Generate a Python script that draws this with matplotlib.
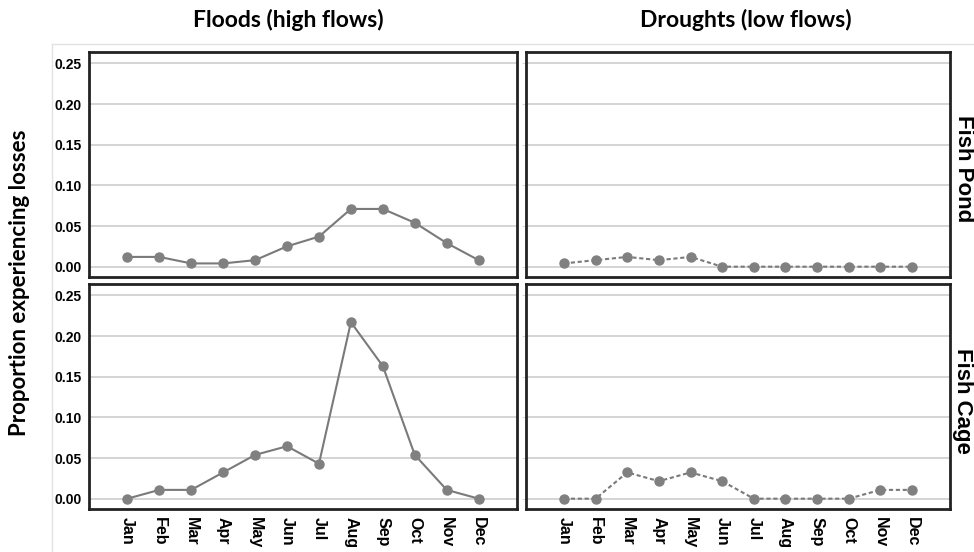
import matplotlib
matplotlib.use("Agg")
import matplotlib.pyplot as plt
from matplotlib.lines import Line2D

months = ["Jan", "Feb", "Mar", "Apr", "May", "Jun",
          "Jul", "Aug", "Sep", "Oct", "Nov", "Dec"]
col_titles = ["Floods (high flows)", "Droughts (low flows)"]
row_titles = ["Fish Pond", "Fish Cage"]
y_ticks = [0.00, 0.05, 0.10, 0.15, 0.20, 0.25]

pond_floods = [0.012, 0.012, 0.004, 0.004, 0.008, 0.025,
               0.037, 0.071, 0.071, 0.054, 0.029, 0.008]
pond_droughts = [0.004, 0.008, 0.012, 0.008, 0.012, 0.0,
                 0.0, 0.0, 0.0, 0.0, 0.0, 0.0]
cage_floods = [0.0, 0.0108, 0.0108, 0.0323, 0.0538, 0.0645,
               0.043, 0.217, 0.163, 0.0538, 0.0108, 0.0]
cage_droughts = [0.0, 0.0, 0.0323, 0.0215, 0.0323, 0.0215,
                 0.0, 0.0, 0.0, 0.0, 0.0108, 0.0108]

series = [[pond_floods, pond_droughts], [cage_floods, cage_droughts]]

W, H = 974, 552
fig = plt.figure(figsize=(W / 100, H / 100), dpi=100)

# faint outer frame of the plot area
fig.add_artist(Line2D([52 / W, 1], [1 - 44 / H] * 2, color="#e2e2e2", lw=1))
fig.add_artist(Line2D([52 / W] * 2, [0, 1 - 44 / H], color="#e2e2e2", lw=1))

lefts = [89 / W, 526 / W]
widths = [428 / W, 424 / W]
bottoms = [1 - 277 / H, 1 - 509 / H]
height = 225 / H
title_x = [288, 746]
row_y = [169, 401]

tick_font = dict(family="Liberation Sans", weight="bold")
x = list(range(len(months)))

for r in range(2):
    for c in range(2):
        ax = fig.add_axes([lefts[c], bottoms[r], widths[c], height])
        ls = "-" if c == 0 else (0, (2, 1.3))
        ax.plot(x, series[r][c], color="#7a7a7a", lw=1.5, linestyle=ls,
                marker="o", markersize=6.5, markerfacecolor="#808080",
                markeredgecolor="#808080", zorder=3)
        ax.set_xlim(-1.2, 12.2)
        ax.set_ylim(-0.0127, 0.264)
        ax.set_yticks(y_ticks)
        ax.yaxis.grid(True, color="#d4d4d4", lw=1.4)
        ax.set_axisbelow(True)
        for s in ax.spines.values():
            s.set_linewidth(2)
            s.set_color("#222222")
        ax.set_xticks(x)
        if r == 1:
            ax.set_xticklabels(months, rotation=-90, fontsize=11.5, **tick_font)
            ax.tick_params(axis="x", length=0, pad=6)
        else:
            ax.set_xticklabels([])
            ax.tick_params(axis="x", length=0)
        if c == 0:
            ax.set_yticklabels([f"{v:.2f}" for v in y_ticks], fontsize=10, **tick_font)
            ax.tick_params(axis="y", length=0, pad=5)
        else:
            ax.set_yticklabels([])
            ax.tick_params(axis="y", length=3, color="#d8d8d8", direction="out")

for c in range(2):
    fig.text(title_x[c] / W, 1 - 20 / H, col_titles[c], ha="center", va="center",
             fontsize=16.5, fontweight="bold", family="Lato")
for r in range(2):
    fig.text(963 / W, 1 - row_y[r] / H, row_titles[r], rotation=-90,
             ha="center", va="center", fontsize=16, fontweight="bold",
             family="Liberation Sans")

fig.text(20 / W, 1 - 283 / H, "Proportion experiencing losses", rotation=90,
         ha="center", va="center", fontsize=16, fontweight="bold", family="Lato")

fig.savefig("out.png", dpi=100)
